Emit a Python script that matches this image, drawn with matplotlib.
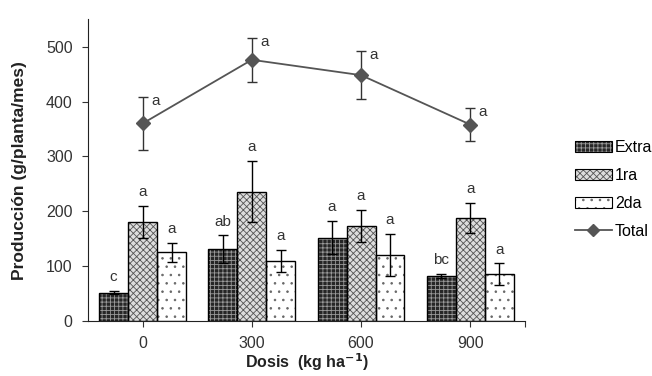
import numpy as np
import matplotlib.pyplot as plt
from matplotlib.patches import Patch
from matplotlib.lines import Line2D
from matplotlib.legend_handler import HandlerTuple

dosis = ["0", "300", "600", "900"]

extra = [52, 131, 152, 82]
extra_err = [3, 25, 30, 3]
primera = [180, 236, 174, 188]
primera_err = [29, 55, 29, 28]
segunda = [125, 109, 120, 85]
segunda_err = [18, 20, 38, 20]
total = [360, 476, 448, 358]
total_err = [49, 40, 44, 30]

extra_let = ["c", "ab", "a", "bc"]
primera_let = ["a", "a", "a", "a"]
segunda_let = ["a", "a", "a", "a"]
total_let = ["a", "a", "a", "a"]

plt.rcParams["font.family"] = ["Liberation Sans", "DejaVu Sans"]
plt.rcParams["hatch.linewidth"] = 0.6

fig = plt.figure(figsize=(6.52, 3.76), dpi=100)
ax = fig.add_axes([0.135, 0.146, 0.67, 0.803])

x = np.arange(len(dosis))
w = 0.265

styles = [
    ("Extra", extra, extra_err, extra_let, -w, "#262626", "#9a9a9a", "++++"),
    ("1ra", primera, primera_err, primera_let, 0, "#dddddd", "#555555", "xxxxx"),
    ("2da", segunda, segunda_err, segunda_let, w, "white", "#666666", ".."),
]

handles = []
labels = []
for name, vals, errs, lets, off, fc, hc, hatch in styles:
    ax.bar(x + off, vals, w, color=fc, edgecolor=hc, hatch=hatch, lw=0, zorder=2)
    ax.bar(x + off, vals, w, fill=False, edgecolor="black", lw=1.0, zorder=3)
    ax.errorbar(x + off, vals, yerr=errs, fmt="none", ecolor="black",
                elinewidth=1, capsize=3.5, capthick=1, zorder=4)
    for xi, v, e, l in zip(x + off, vals, errs, lets):
        ax.annotate(l, (xi, v + e), xytext=(0, 5), textcoords="offset points",
                    ha="center", va="bottom", fontsize=11, color="#333333")
    handles.append((Patch(facecolor=fc, edgecolor=hc, hatch=hatch, lw=0),
                    Patch(fill=False, edgecolor="black", lw=0.8)))
    labels.append(name)

ax.errorbar(x, total, yerr=total_err, fmt="none", ecolor="#333333",
            elinewidth=1, capsize=3.5, capthick=1, zorder=4)
ax.plot(x, total, color="#555555", lw=1.3, marker="D", markersize=7,
        markerfacecolor="#555555", markeredgecolor="#555555", zorder=5)
for xi, v, e, l in zip(x, total, total_err, total_let):
    ax.annotate(l, (xi, v + e), xytext=(6, -3), textcoords="offset points",
                ha="left", va="center", fontsize=11, color="#333333")
handles.append(Line2D([], [], color="#555555", lw=1.3, marker="D", markersize=6))
labels.append("Total")

ax.set_xlim(-0.5, 3.5)
ax.set_ylim(0, 550)
ax.set_yticks(np.arange(0, 501, 100))
ax.set_xticks(list(x) + [3.5])
ax.set_xticklabels(dosis + [""])
ax.tick_params(axis="both", labelsize=11.5, colors="#333333", length=4, pad=7)
ax.tick_params(axis="x", pad=7)
for s in ["top", "right"]:
    ax.spines[s].set_visible(False)
for s in ["left", "bottom"]:
    ax.spines[s].set_color("#222222")

ax.set_ylabel("Producción (g/planta/mes)", fontsize=12.5, fontweight="bold",
              color="#222222", labelpad=14)
ax.set_xlabel("Dosis  (kg ha$^{\\mathbf{-1}}$)", fontsize=11.5, fontweight="bold",
              color="#222222", labelpad=0)

fig.legend(handles=handles, labels=labels, loc="upper left",
           bbox_to_anchor=(0.86, 0.665), frameon=False, fontsize=11.5,
           handlelength=2.3, handletextpad=0.2, labelspacing=0.8,
           handler_map={tuple: HandlerTuple(ndivide=1, pad=0)})

fig.savefig("out.png", dpi=100)
